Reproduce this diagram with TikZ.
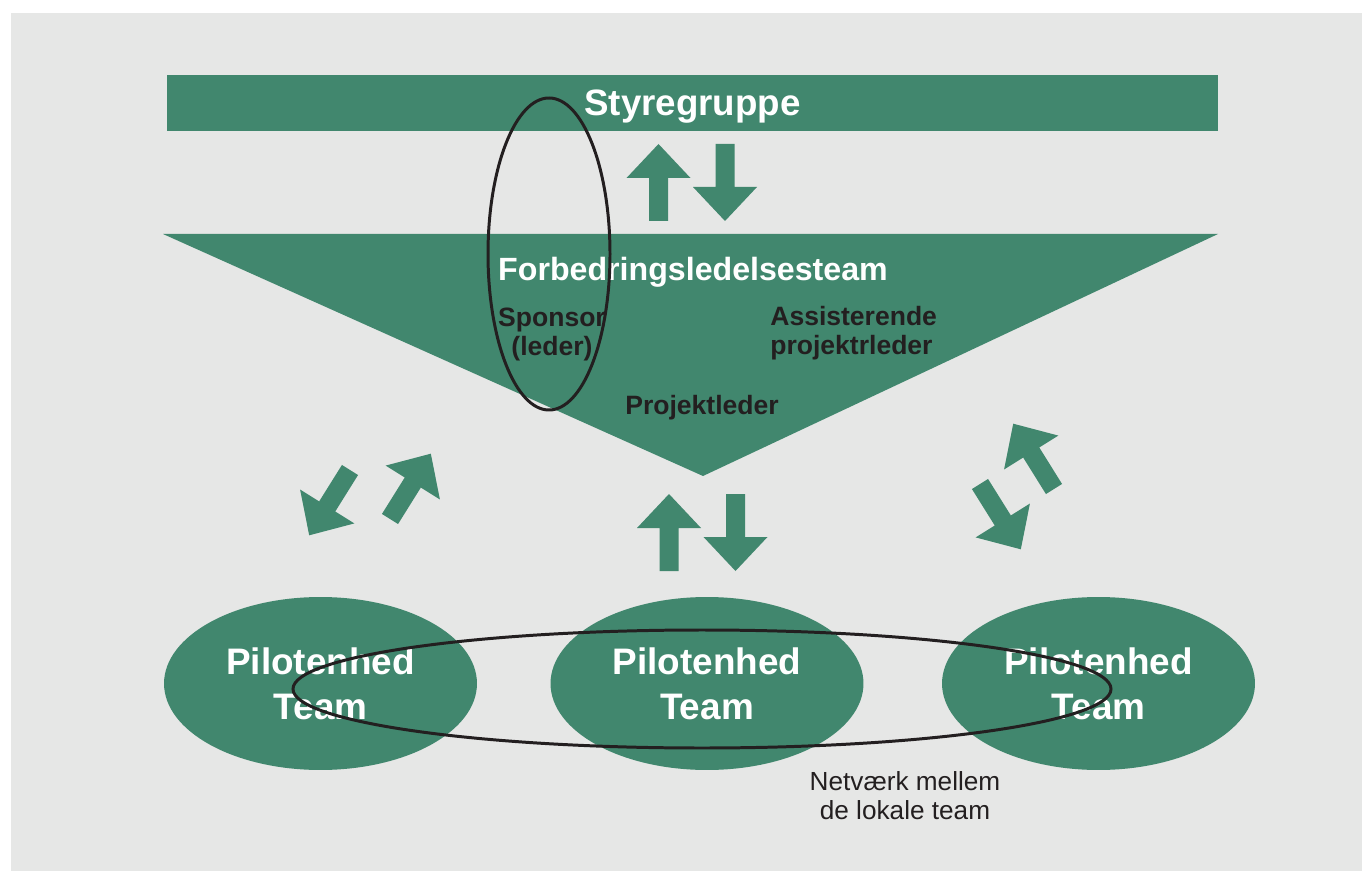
\documentclass[tikz,border=0pt]{standalone}
\usepackage{fontspec}
\setmainfont{Liberation Sans}
\usetikzlibrary{shapes.geometric}

\definecolor{panelgray}{HTML}{E6E7E6}
\definecolor{teamgreen}{HTML}{41876E}
\definecolor{darktext}{HTML}{231F20}

% fat two-way arrows, tail centre at (#1,#2), pointing at angle #3
\newcommand{\blockarrow}[3]{%
  \fill[arrowfill, shift={(#1,#2)}, rotate=#3]
    (0,-9.5) -- (43,-9.5) -- (43,-32) -- (77,0) -- (43,32) -- (43,9.5) -- (0,9.5) -- cycle;}

\begin{document}
\begin{tikzpicture}[
  x=0.02cm, y=-0.02cm,
  bar/.style={rectangle, fill=teamgreen, text=white, inner sep=0pt,
              minimum width=21.02cm, minimum height=1.12cm,
              font=\bfseries\fontsize{20.9}{25}\selectfont},
  pilot/.style={ellipse, fill=teamgreen, text=white, inner sep=0pt,
                minimum width=6.26cm, minimum height=3.46cm, align=center,
                font=\bfseries\fontsize{21}{25.6}\selectfont},
  whitelabel/.style={text=white, inner sep=0pt,
                     font=\bfseries\fontsize{18.3}{22}\selectfont},
  rolelabel/.style={text=darktext, inner sep=0pt,
                    font=\bfseries\fontsize{15.1}{16.5}\selectfont},
  notelabel/.style={text=darktext, inner sep=0pt, align=center,
                    font=\fontsize{14.9}{16.5}\selectfont},
  ring/.style={draw=darktext, line width=1.7pt},
  arrowfill/.style={fill=teamgreen},
]

% ── Panel ──────────────────────────────────────────────────────────────
\useasboundingbox (0,0) rectangle (1362,871);
\fill[panelgray] (11,13) rectangle (1362,871);

% ── Top: Styregruppe ──────────────────────────────────────────────────
\fill[teamgreen] (167,75) rectangle (1218,131);
\node[whitelabel, font=\bfseries\fontsize{20.9}{25}\selectfont] (styre) at (692.5,107) {Styregruppe};

\blockarrow{658.5}{221}{90}
\blockarrow{725}{144}{-90}

% ── Middle: Forbedringsledelsesteam (triangle) ────────────────────────
\fill[teamgreen] (163,234) -- (1218,234) -- (703,476) -- cycle;

\node[whitelabel] (fteam) at (693,272) {Forbedringsledelsesteam};
\node[rolelabel, align=center] (sponsor) at (552,334) {Sponsor\\(leder)};
\node[rolelabel, align=left, anchor=west] (assist) at (770,333)
  {Assisterende\\projektrleder};
\node[rolelabel] (pleder) at (702,408) {Projektleder};

\draw[ring] (549,254) ellipse [x radius=61, y radius=156];

% ── Arrows down to the teams ──────────────────────────────────────────
\blockarrow{350}{470}{238}
\blockarrow{390}{519}{58}
\blockarrow{669}{571}{90}
\blockarrow{735.5}{494}{-90}
\blockarrow{1054}{489}{122}
\blockarrow{980}{484}{-58}

% ── Bottom: Pilotenhed teams ──────────────────────────────────────────
\node[pilot] (pilotL) at (320.5,683.5) {Pilotenhed\\Team};
\node[pilot] (pilotM) at (707,683.5)   {Pilotenhed\\Team};
\node[pilot] (pilotR) at (1098.5,683.5) {Pilotenhed\\Team};

\draw[ring] (702,689) ellipse [x radius=409, y radius=59];

\node[notelabel] (netvaerk) at (905,796) {Netværk mellem\\de lokale team};

\end{tikzpicture}
\end{document}
